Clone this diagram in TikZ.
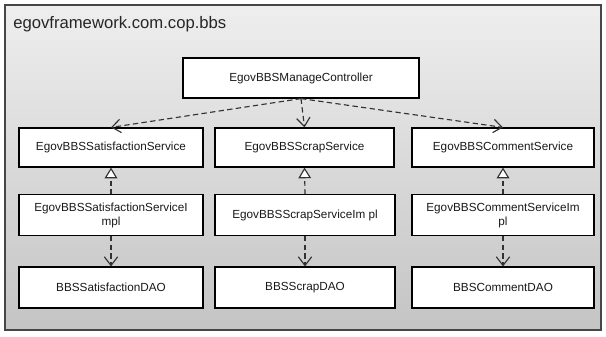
\documentclass[tikz,border=0pt]{standalone}
\usepackage{fontspec}
\setmainfont{Liberation Sans}
\usetikzlibrary{arrows.meta}
\definecolor{framegray}{RGB}{70,70,70}
\definecolor{bgtop}{RGB}{238,238,238}
\definecolor{bgbot}{RGB}{196,196,196}
\definecolor{linegray}{RGB}{50,50,50}
\tikzset{
  cls/.style={draw=black, line width=0.9pt, fill=white, inner sep=1pt,
    align=center, font=\fontsize{8.8}{10.5}\selectfont, text=black!90},
  dep/.style={draw=linegray, line width=0.85pt, dash pattern=on 4pt off 2.5pt,
    -{Straight Barb[length=6.5pt,width=10pt,line width=0.85pt]}},
  real/.style={draw=linegray, line width=0.85pt, dash pattern=on 3.5pt off 2.5pt,
    -{Triangle[open,length=8pt,width=9.5pt,fill=white,line width=0.85pt]}}
}
\begin{document}
\begin{tikzpicture}[x=0.75pt,y=-0.75pt]
\useasboundingbox (0,0) rectangle (606,336);
\fill[white] (0,0) rectangle (606,336);
\shade[top color=bgtop, bottom color=bgbot] (5,5) rectangle (601,330);
\draw[framegray, line width=1.1pt] (5,5) rectangle (601,330);
\node[anchor=base west, font=\fontsize{12.5}{14}\selectfont, text=black!85, inner sep=0pt] (title) at (13,28) {egovframework.com.cop.bbs};

\node[cls, minimum width=236*0.75pt, minimum height=40*0.75pt] (ctrl) at (301,78) {EgovBBSManageController};

\node[cls, minimum width=184*0.75pt, minimum height=39*0.75pt] (s1) at (111,147.5) {EgovBBSSatisfactionService};
\node[cls, minimum width=179*0.75pt, minimum height=39*0.75pt] (s2) at (304.5,147.5) {EgovBBSScrapService};
\node[cls, minimum width=182*0.75pt, minimum height=39*0.75pt] (s3) at (503,147.5) {EgovBBSCommentService};

\node[cls, minimum width=184*0.75pt, minimum height=41*0.75pt] (i1) at (111,215) {EgovBBSSatisfactionServiceI\\mpl};
\node[cls, minimum width=180*0.75pt, minimum height=41*0.75pt] (i2) at (305,215) {EgovBBSScrapServiceIm pl};
\node[cls, minimum width=182*0.75pt, minimum height=41*0.75pt] (i3) at (503,215) {EgovBBSCommentServiceIm\\pl};

\node[cls, minimum width=184*0.75pt, minimum height=41*0.75pt] (d1) at (111,287.5) {BBSSatisfactionDAO};
\node[cls, minimum width=180*0.75pt, minimum height=41*0.75pt] (d2) at (305,287.5) {BBSScrapDAO};
\node[cls, minimum width=182*0.75pt, minimum height=41*0.75pt] (d3) at (503,287.5) {BBSCommentDAO};

\draw[dep] (ctrl.south) -- (s1.north);
\draw[dep] (ctrl.south) -- (s2.north);
\draw[dep] (ctrl.south) -- (s3.north);

\draw[real] (i1.north) -- (s1.south);
\draw[real] (i2.north) -- (s2.south);
\draw[real] (i3.north) -- (s3.south);

\draw[dep] (i1.south) -- (d1.north);
\draw[dep] (i2.south) -- (d2.north);
\draw[dep] (i3.south) -- (d3.north);
\end{tikzpicture}
\end{document}
